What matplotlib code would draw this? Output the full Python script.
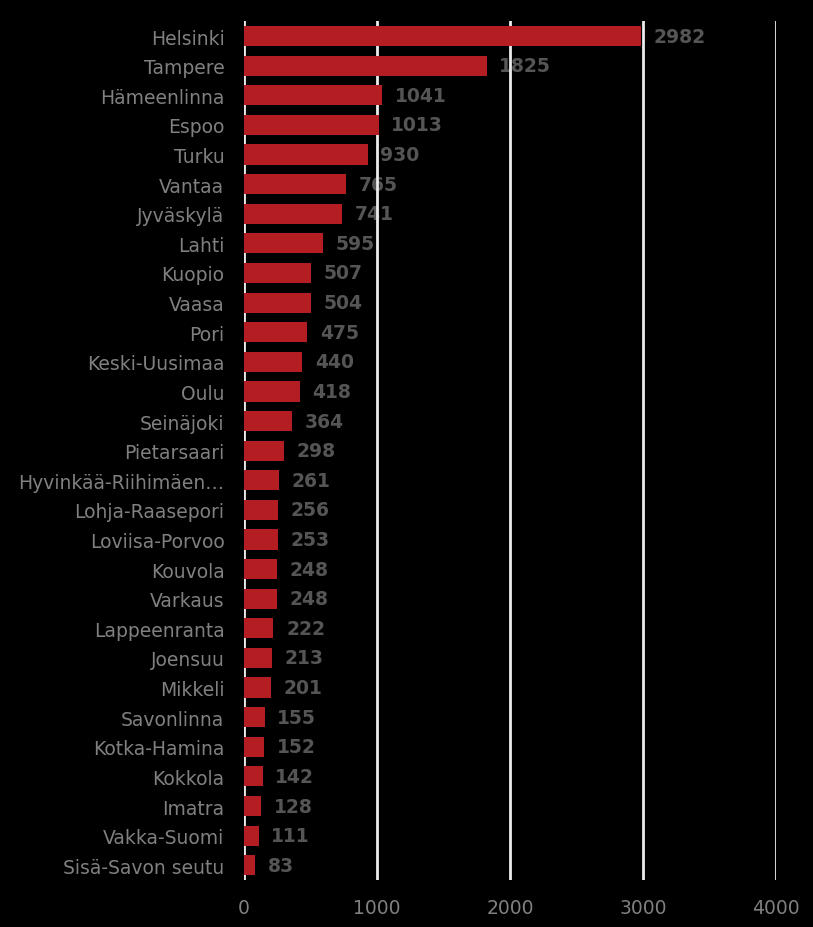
import matplotlib.pyplot as plt

# Seutukunnat ja arvot (ylhäältä alas)
regions = ['Helsinki', 'Tampere', 'Hämeenlinna', 'Espoo', 'Turku', 'Vantaa',
           'Jyväskylä', 'Lahti', 'Kuopio', 'Vaasa', 'Pori', 'Keski-Uusimaa',
           'Oulu', 'Seinäjoki', 'Pietarsaari', 'Hyvinkää-Riihimäen…',
           'Lohja-Raasepori', 'Loviisa-Porvoo', 'Kouvola', 'Varkaus',
           'Lappeenranta', 'Joensuu', 'Mikkeli', 'Savonlinna', 'Kotka-Hamina',
           'Kokkola', 'Imatra', 'Vakka-Suomi', 'Sisä-Savon seutu']
values = [2982, 1825, 1041, 1013, 930, 765, 741, 595, 507, 504, 475, 440,
          418, 364, 298, 261, 256, 253, 248, 248, 222, 213, 201, 155, 152,
          142, 128, 111, 83]
x_ticks = [0, 1000, 2000, 3000, 4000]

fig = plt.figure(figsize=(8.13, 9.28), dpi=100, facecolor='black')
ax = fig.add_axes([0.300, 0.0506, 0.6545, 0.9254], facecolor='black')

pos = list(range(len(regions)))
ax.barh(pos, values, height=0.68, color='#b41e23', zorder=3)

# arvot palkkien perään
for p, v in zip(pos, values):
    ax.text(v + 95, p, str(v), va='center', ha='left', fontsize=13.5,
            fontweight='bold', color='#555555', zorder=1)

ax.set_xlim(0, 4000)
ax.set_ylim(len(regions) - 0.5, -0.5)
ax.set_yticks(pos)
ax.set_yticklabels(regions)
ax.set_xticks(x_ticks)
ax.tick_params(axis='both', length=0, colors='#808080', labelsize=13.5)
ax.tick_params(axis='y', pad=14)
ax.tick_params(axis='x', pad=13)
ax.xaxis.grid(True, color='#ececec', linewidth=2, zorder=2)
ax.set_axisbelow(False)
for s in ax.spines.values():
    s.set_visible(False)

plt.savefig('out.png', facecolor='black')
